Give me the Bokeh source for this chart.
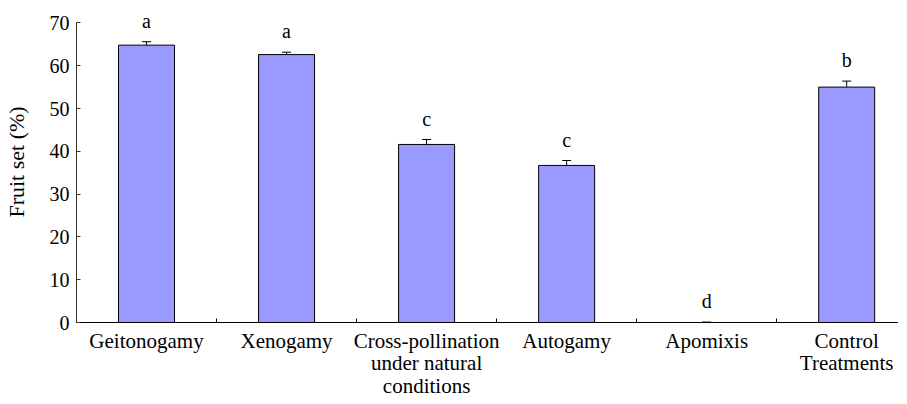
from bokeh.plotting import figure
from bokeh.models import ColumnDataSource, FixedTicker, Whisker, TeeHead, Range1d, LabelSet
from bokeh.embed import file_html
from bokeh.resources import INLINE

categories = ["Geitonogamy", "Xenogamy", "Cross-pollination\nunder natural\nconditions",
              "Autogamy", "Apomixis", "Control\nTreatments"]
fruit_set = [64.8, 62.6, 41.6, 36.7, 0.0, 55.0]
errors = [0.8, 0.55, 1.15, 1.15, 0.1, 1.4]
letters = ["a", "a", "c", "c", "d", "b"]
y_ticks = [0, 10, 20, 30, 40, 50, 60, 70]

xs = list(range(len(categories)))
src = ColumnDataSource(dict(
    x=xs, top=fruit_set,
    upper=[v + e for v, e in zip(fruit_set, errors)],
    lower=[v - e for v, e in zip(fruit_set, errors)],
    letter=letters,
))

FONT = "Liberation Serif"

p = figure(frame_width=822, frame_height=321, output_backend="svg", toolbar_location=None,
           x_range=Range1d(-0.5, 5.37), y_range=Range1d(0, 75),
           min_border_left=72, min_border_right=0, min_border_top=1, min_border_bottom=10)
p.outline_line_color = None
p.grid.visible = False
p.background_fill_color = "white"

p.vbar(x="x", top="top", width=0.4, bottom=0, source=src,
       fill_color="#9999FF", line_color="black", line_width=1)

w = Whisker(source=src, base="x", upper="upper", lower="lower",
            line_color="black", line_width=1,
            upper_head=TeeHead(size=9, line_color="black", line_width=1),
            lower_head=TeeHead(size=9, line_color="black", line_width=1))
p.add_layout(w)

labels = LabelSet(x="x", y="upper", text="letter", source=src, text_align="center",
                  text_baseline="alphabetic", y_offset=14, text_font=FONT,
                  text_font_size="20px", text_color="black")
p.add_layout(labels)

# x axis
xa = p.xaxis[0]
xa.ticker = FixedTicker(ticks=xs, minor_ticks=[i + 0.5 for i in range(-1, len(xs))])
xa.major_label_overrides = {i: c for i, c in zip(xs, categories)}
xa.major_tick_in = 0
xa.major_tick_out = 0
xa.minor_tick_in = 4
xa.minor_tick_out = 0
xa.minor_tick_line_color = "black"
xa.axis_line_color = "black"
xa.major_label_text_font = FONT
xa.major_label_text_font_size = "21px"
xa.major_label_text_line_height = 0.95
xa.major_label_standoff = 6
xa.major_label_text_color = "black"

# y axis
ya = p.yaxis[0]
ya.ticker = FixedTicker(ticks=y_ticks)
ya.bounds = (y_ticks[0], y_ticks[-1])
ya.major_tick_in = 4
ya.major_tick_out = 0
ya.minor_tick_line_color = None
ya.axis_line_color = "#333333"
ya.major_tick_line_color = "#333333"
ya.major_label_text_font = FONT
ya.major_label_text_font_size = "20px"
ya.major_label_text_color = "black"
ya.major_label_standoff = 7
ya.axis_label = "Fruit set (%)"
ya.axis_label_text_font = FONT
ya.axis_label_text_font_size = "22px"
ya.axis_label_text_font_style = "normal"
ya.axis_label_text_color = "black"
ya.axis_label_standoff = 18

open("out.html", "w").write(file_html(p, INLINE))
